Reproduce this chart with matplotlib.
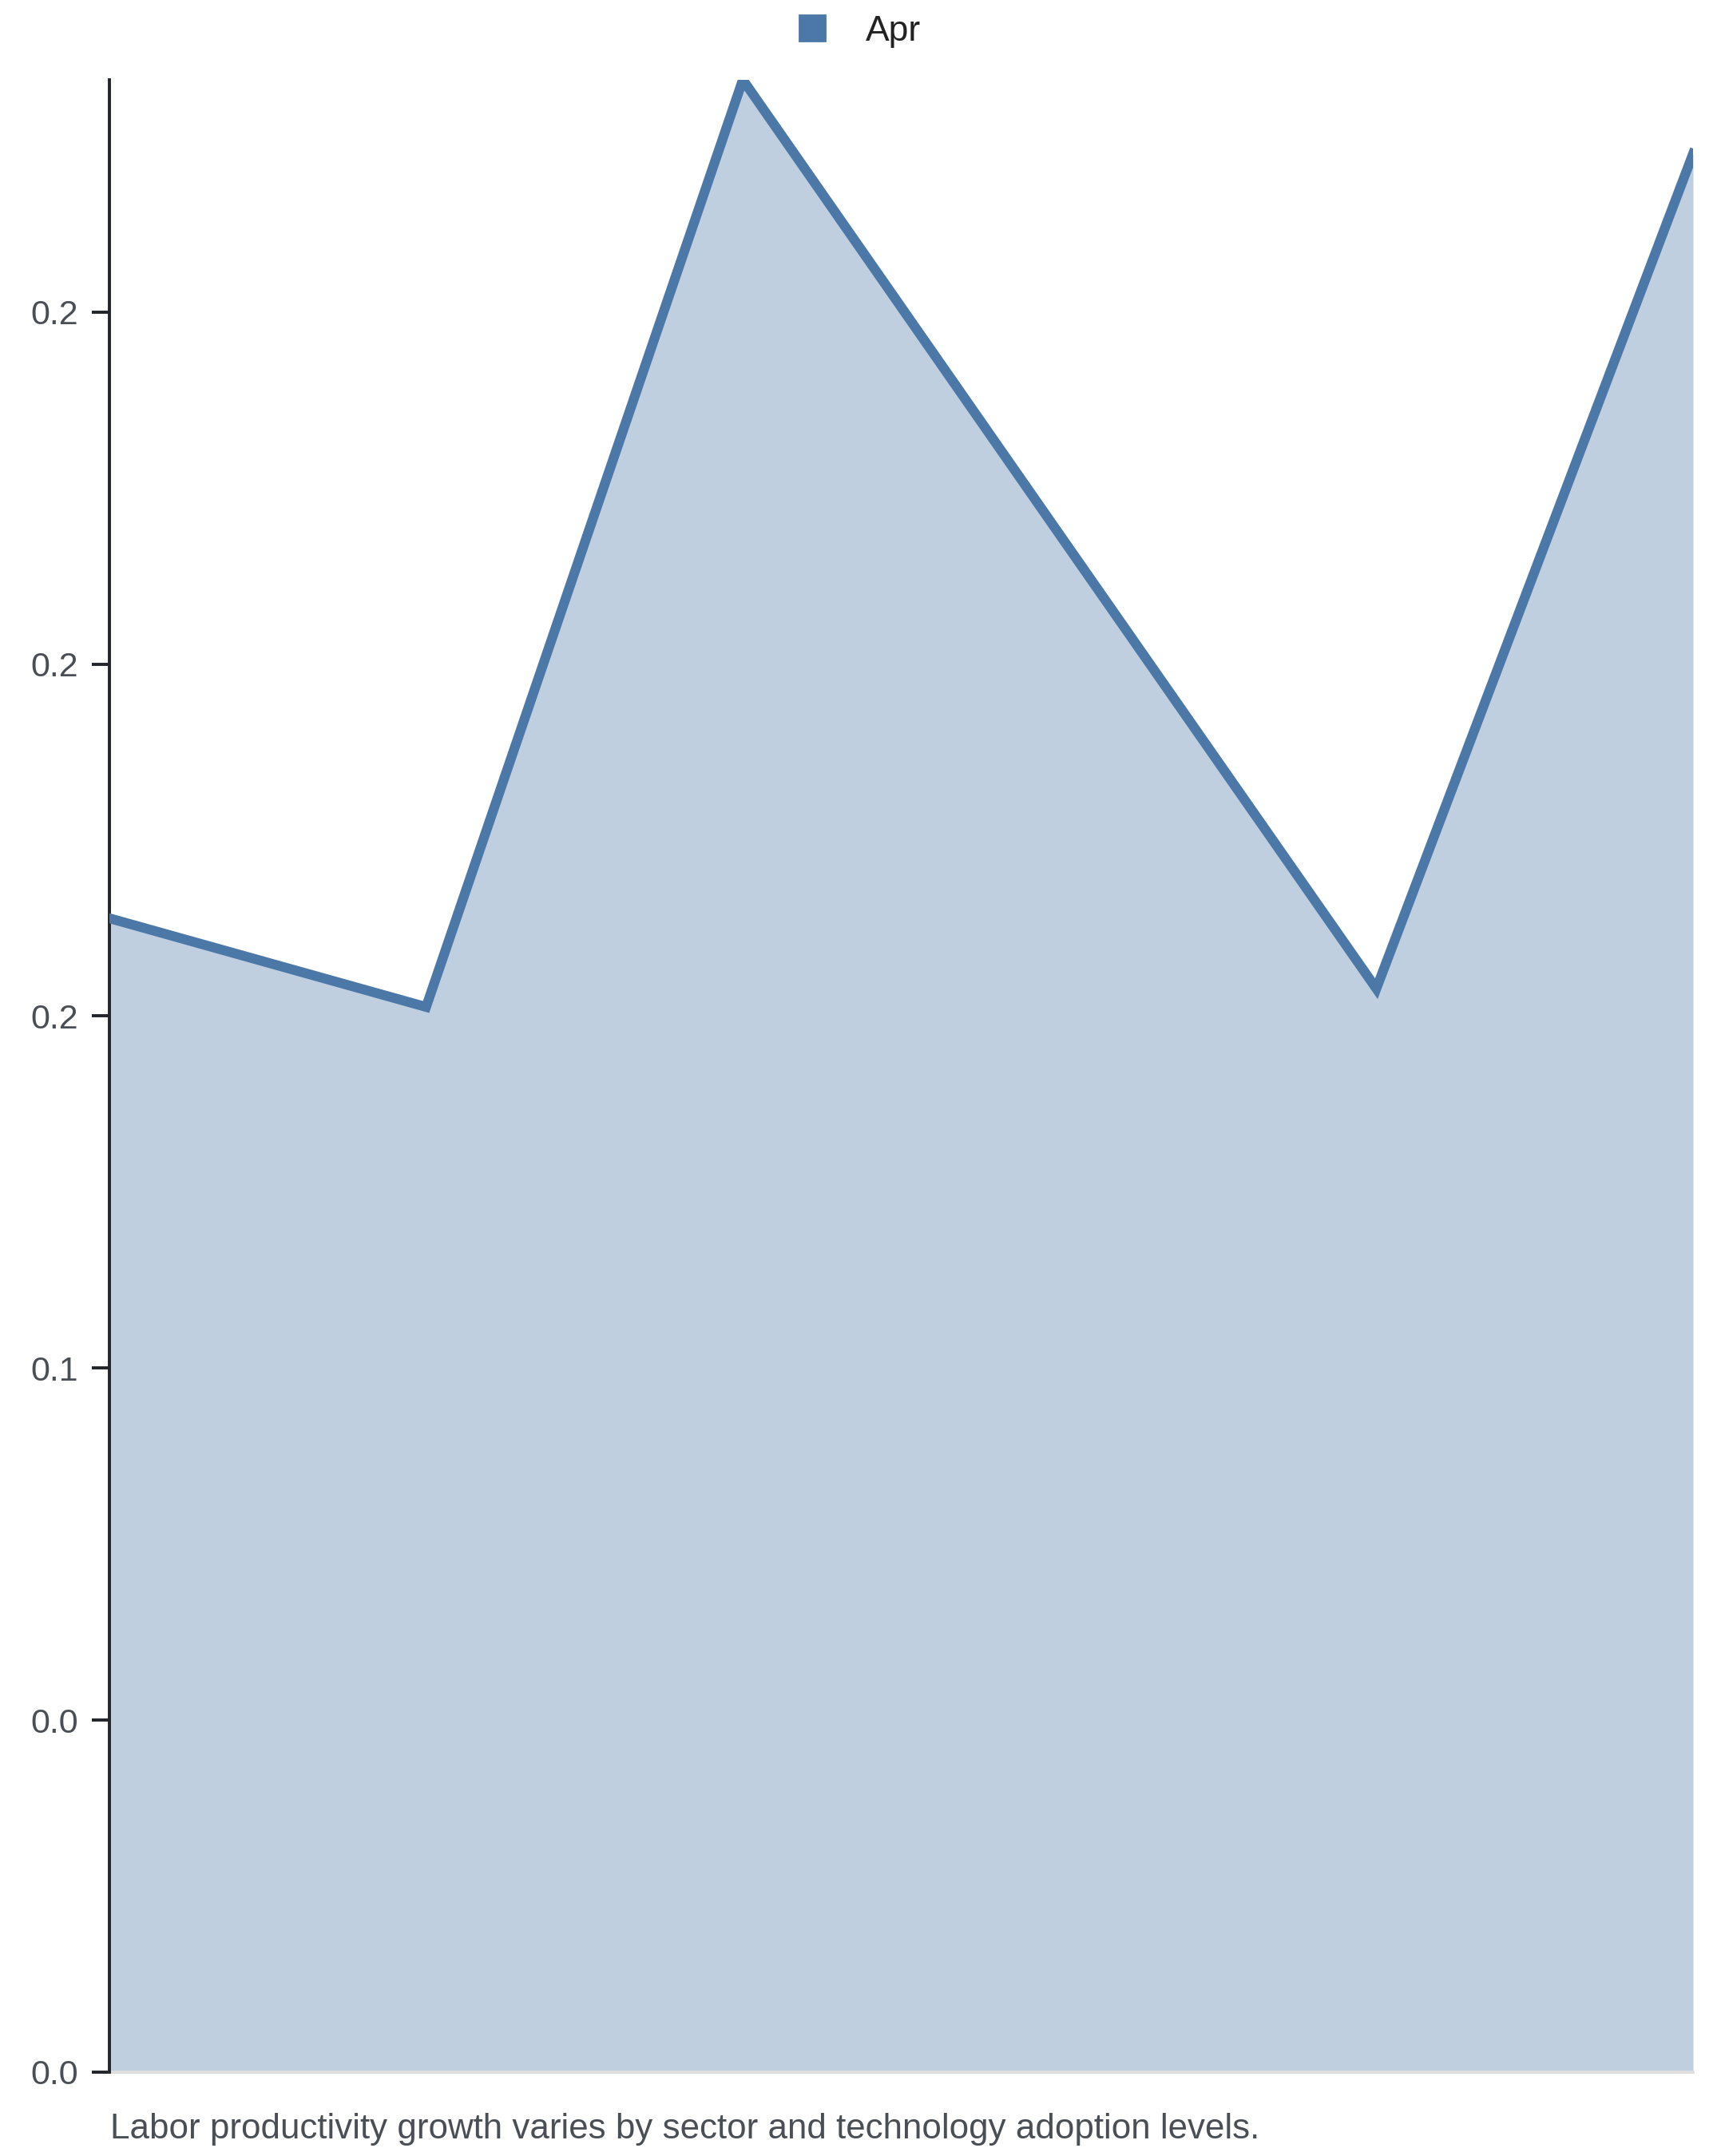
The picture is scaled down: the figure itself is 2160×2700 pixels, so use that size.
import matplotlib
matplotlib.use("Agg")
import matplotlib.pyplot as plt
from matplotlib.lines import Line2D

plt.rcParams['font.family'] = ['Liberation Sans', 'DejaVu Sans']

# data
categories = ['c1', 'c2', 'c3', 'c4', 'c5', 'c6']
apr = [0.1639, 0.1513, 0.2830, 0.2184, 0.1539, 0.2725]
series_name = 'Apr'
tick_vals = [0.0, 0.05, 0.10, 0.15, 0.20, 0.25]
tick_labels = ['0.0', '0.0', '0.1', '0.2', '0.2', '0.2']
caption = 'Labor productivity growth varies by sector and technology adoption levels.'

blue = '#4c78a8'
x = list(range(len(categories)))

fig = plt.figure(figsize=(10.8, 13.5), dpi=200)
ax = fig.add_axes([0.0634, 0.0389, 0.9181, 0.9241])

ax.fill_between(x, 0, apr, color=blue, alpha=0.35, linewidth=0, zorder=1)
ax.plot(x, apr, color=blue, linewidth=4.4, solid_joinstyle='miter', zorder=3)

ax.set_xlim(0, len(categories) - 1)
ax.set_ylim(0, max(apr))
ax.set_xticks([])
ax.set_yticks(tick_vals)
ax.set_yticklabels(tick_labels)

for s in ['top', 'right']:
    ax.spines[s].set_visible(False)
ax.spines['left'].set_color('#212529')
ax.spines['left'].set_linewidth(1.4)
ax.spines['bottom'].set_color('#dedede')
ax.spines['bottom'].set_linewidth(1.4)
ax.spines['bottom'].set_zorder(2)
ax.tick_params(axis='y', length=8, width=1.4, color='#212529', pad=6,
               labelsize=15.5, labelcolor='#4a4f55')

handle = Line2D([], [], linestyle='none', marker='s', markersize=11.5,
                markerfacecolor=blue, markeredgecolor=blue)
fig.legend([handle], [series_name], loc='center', bbox_to_anchor=(0.492, 0.9855),
           frameon=False, fontsize=16, handletextpad=0.5, labelcolor='#222222')

fig.text(0.0639, 0.0123, caption, fontsize=15.8, color='#4a4f55', ha='left', va='center')

fig.savefig('out.png', dpi=200, facecolor='white')
